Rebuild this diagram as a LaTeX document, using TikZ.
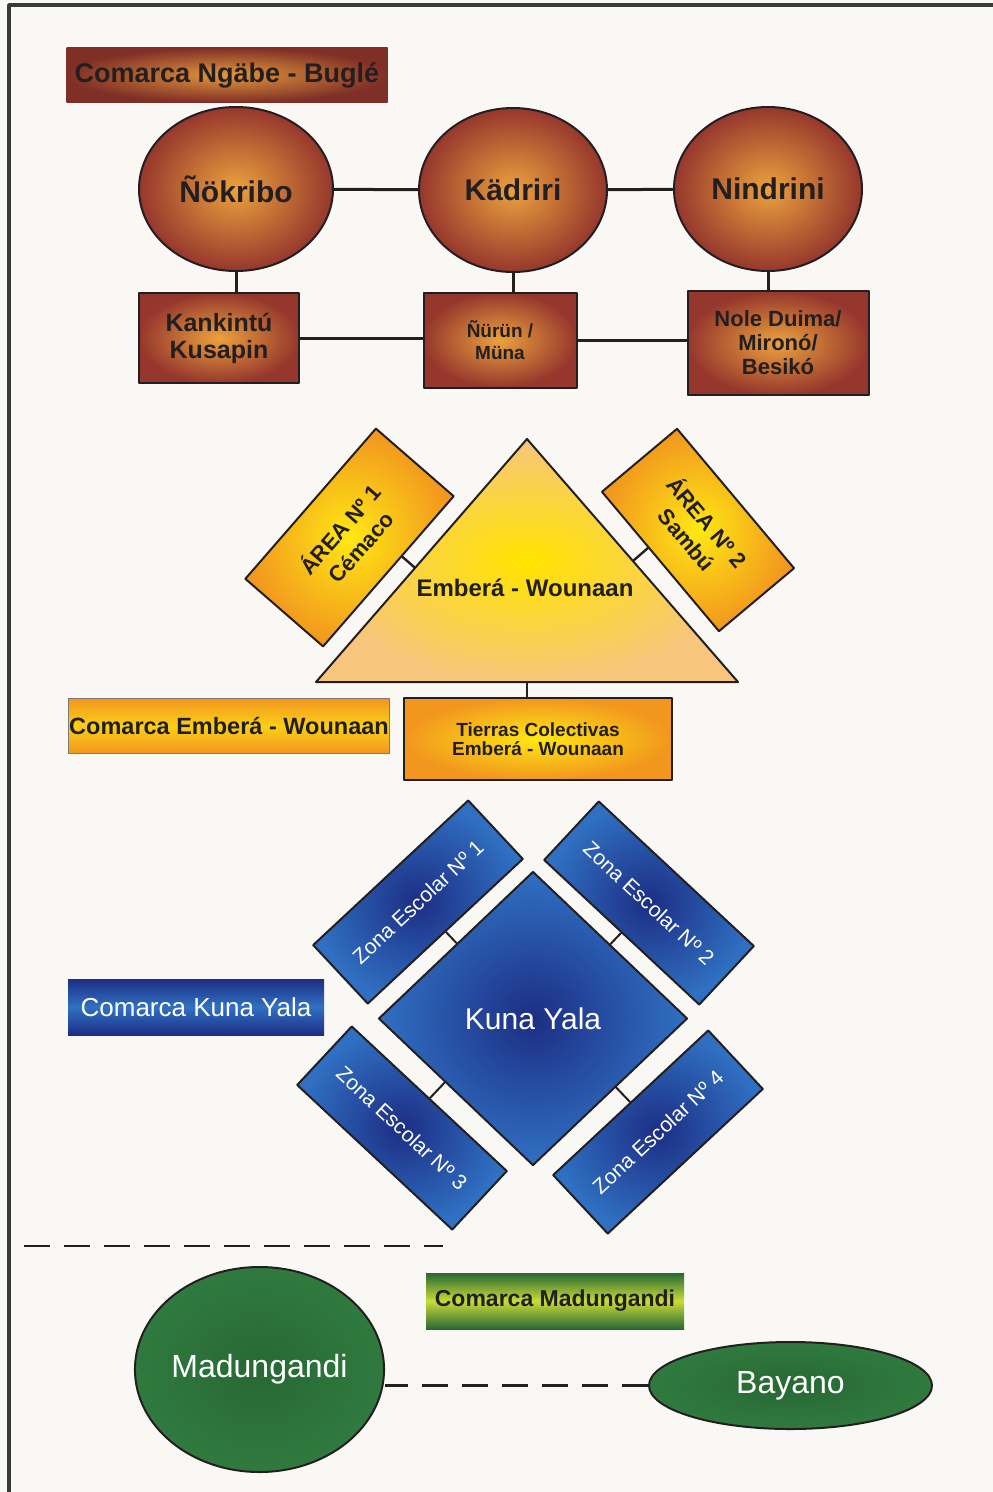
\documentclass[tikz,border=0pt]{standalone}
\usepackage{fontspec}
\setmainfont{Liberation Sans}
\usetikzlibrary{shapes.geometric,calc}
\definecolor{paper}{RGB}{250,248,245}
\definecolor{frame}{RGB}{58,58,58}
\definecolor{ink}{RGB}{35,31,32}
\definecolor{ngout}{RGB}{150,55,45}
\definecolor{ngin}{RGB}{236,162,62}
\definecolor{emout}{RGB}{242,150,30}
\definecolor{emin}{RGB}{255,232,20}
\definecolor{trout}{RGB}{247,198,124}
\definecolor{trin}{RGB}{255,228,0}
\definecolor{kuout}{RGB}{48,112,194}
\definecolor{kuin}{RGB}{28,46,132}
\definecolor{maout}{RGB}{47,122,62}
\definecolor{madark}{RGB}{40,104,52}
\definecolor{malight}{RGB}{200,220,56}
\begin{document}
\begin{tikzpicture}[line cap=round,line join=round,x=1pt,y=-1pt,
	link/.style={draw=ink,line width=3pt},
	dashline/.style={draw=ink,line width=2.6pt,line cap=butt,dash pattern=on 26pt off 14pt},
	ngcirc/.style={ellipse,draw=ink,line width=2pt,inner sep=0pt,minimum height=164,inner color=ngin,outer color=ngout,text=ink,font=\fontsize{30}{32}\selectfont\bfseries},
	ngbox/.style={rectangle,draw=ink,line width=2pt,inner sep=0pt,align=center,inner color=ngin,outer color=ngout,text=ink},
	ngbar/.style={rectangle,inner sep=0pt,minimum width=321,minimum height=55,inner color=ngin!90!ngout,outer color=ngout!85!black,text=ink,font=\fontsize{27}{30}\selectfont\bfseries},
	embox/.style={rectangle,draw=ink,line width=2pt,inner sep=0pt,align=center,inner color=emin,outer color=emout,text=ink},
	embar/.style={rectangle,draw=ink!60,line width=0.6pt,inner sep=0pt,minimum width=321,minimum height=55,top color=emout,bottom color=emout,middle color=emin!70!emout,text=ink,font=\fontsize{23.5}{26}\selectfont\bfseries},
	kudiam/.style={diamond,draw=ink,line width=2pt,inner sep=0pt,minimum width=309,minimum height=294,inner color=kuin,outer color=kuout,text=white,font=\fontsize{30}{32}\selectfont},
	kuzone/.style={rectangle,draw=ink,line width=2pt,inner sep=0pt,minimum width=212,minimum height=80,inner color=kuin,outer color=kuout,text=white,font=\fontsize{21}{23}\selectfont},
	kubar/.style={rectangle,inner sep=0pt,minimum width=256,minimum height=56,top color=kuin,bottom color=kuin,middle color=kuout,text=white,font=\fontsize{26}{28}\selectfont},
	maell/.style={ellipse,draw=ink,line width=2pt,inner sep=0pt,inner color=madark,outer color=maout,text=white,font=\fontsize{32}{34}\selectfont},
	mabar/.style={rectangle,inner sep=0pt,minimum width=258,minimum height=56,top color=madark,bottom color=madark,middle color=malight,text=ink,font=\fontsize{23}{26}\selectfont\bfseries}]
		\fill [paper] (0,0) rectangle (993,1492);
		\useasboundingbox (0,0) rectangle (993,1492);
		\draw [line width=3.5pt,color=frame] (9,1495) -- (9,5) -- (996,5);
		\node [ngbar] (ngl) at (227,75) {Comarca Ngäbe - Buglé};
		\node [ngcirc,minimum width=194] (nok) at (236,189) {Ñökribo};
		\node [ngcirc,minimum width=188] (kad) at (513,190) {Kädriri};
		\node [ngcirc,minimum width=188] (nin) at (768,189) {Nindrini};
		\node [ngbox,minimum width=160,minimum height=90,font=\fontsize{25}{27}\selectfont\bfseries] (kan) at (219,338) {Kankintú\\Kusapin};
		\node [ngbox,minimum width=153,minimum height=95,font=\fontsize{19}{22}\selectfont\bfseries] (nur) at (500,340) {Ñürün /\\Müna};
		\node [ngbox,minimum width=181,minimum height=104,font=\fontsize{22}{24}\selectfont\bfseries] (nol) at (778,343) {Nole Duima/\\Mironó/\\Besikó};
		\draw [link] (nok) -- (kad);
		\draw [link] (kad) -- (nin);
		\draw [link] (nok.south) -- (nok.south |- kan.north);
		\draw [link] (kad.south) -- (kad.south |- nur.north);
		\draw [link] (nin.south) -- (nin.south |- nol.north);
		\draw [link] (kan.east) -- (kan.east -| nur.west);
		\draw [link] (nur.east) -- (nur.east -| nol.west);
		\coordinate (tA) at (527,439);
		\coordinate (tL) at (316,682);
		\coordinate (tR) at (738,682);
		\coordinate (tB) at (527,682);
		\shadedraw [draw=ink,line width=2pt,inner color=trin,outer color=trout] (tA) -- (tR) -- (tL) -- cycle;
		\node [text=ink,font=\fontsize{24}{26}\selectfont\bfseries] (emb) at (525,588) {Emberá - Wounaan};
		\node [embox,rotate=49,minimum width=199,minimum height=103,font=\fontsize{22}{27}\selectfont\bfseries] (ar1) at (349.5,537.5) {ÁREA Nº 1\\Cémaco};
		\node [embox,rotate=-50,minimum width=182,minimum height=98,font=\fontsize{22}{27}\selectfont\bfseries] (ar2) at (698,530) {ÁREA Nº 2\\Sambú};
		\coordinate (c1) at ($(ar1.south)!0.2!(ar1.south east)$);
		\coordinate (c2) at ($(ar2.south)!0.2!(ar2.south west)$);
		\draw [link,line width=2.4pt] (c1) -- ($(tL)!(c1)!(tA)$);
		\draw [link,line width=2.4pt] (c2) -- ($(tA)!(c2)!(tR)$);
		\node [embox,minimum width=268,minimum height=82,font=\fontsize{19}{19}\selectfont\bfseries] (tie) at (538,739) {Tierras Colectivas\\Emberá - Wounaan};
		\node [embar] (eml) at (229,726) {Comarca Emberá - Wounaan};
		\draw [link,line width=2.4pt] (tB) -- (tB |- tie.north);
		\node [kudiam] (kun) at (533,1018.5) {Kuna Yala};
		\node [kuzone,rotate=43] (z1) at (418,902) {Zona Escolar Nº 1};
		\node [kuzone,rotate=-43] (z2) at (649,903) {Zona Escolar Nº 2};
		\node [kuzone,rotate=-43] (z3) at (402,1128) {Zona Escolar Nº 3};
		\node [kuzone,rotate=43] (z4) at (658,1132) {Zona Escolar Nº 4};
		\draw [link,line width=2pt] (z1.south) -- ($(kun.west)!(z1.south)!(kun.north)$);
		\draw [link,line width=2pt] (z2.south) -- ($(kun.north)!(z2.south)!(kun.east)$);
		\draw [link,line width=2pt] (z3.north) -- ($(kun.west)!(z3.north)!(kun.south)$);
		\draw [link,line width=2pt] (z4.north) -- ($(kun.south)!(z4.north)!(kun.east)$);
		\node [kubar] (kul) at (196,1007) {Comarca Kuna Yala};
		\draw [dashline] (24,1246) -- (443,1246);
		\node [mabar] (mal) at (555,1301) {Comarca Madungandi};
		\node [maell,minimum width=247,minimum height=205] (mad) at (259.5,1369.5) {Madungandi};
		\node [maell,minimum width=283,minimum height=87] (bay) at (790.5,1385.5) {Bayano};
		\draw [dashline] (bay.west) -- (bay.west -| mad.east);
	\end{tikzpicture}
\end{document}
